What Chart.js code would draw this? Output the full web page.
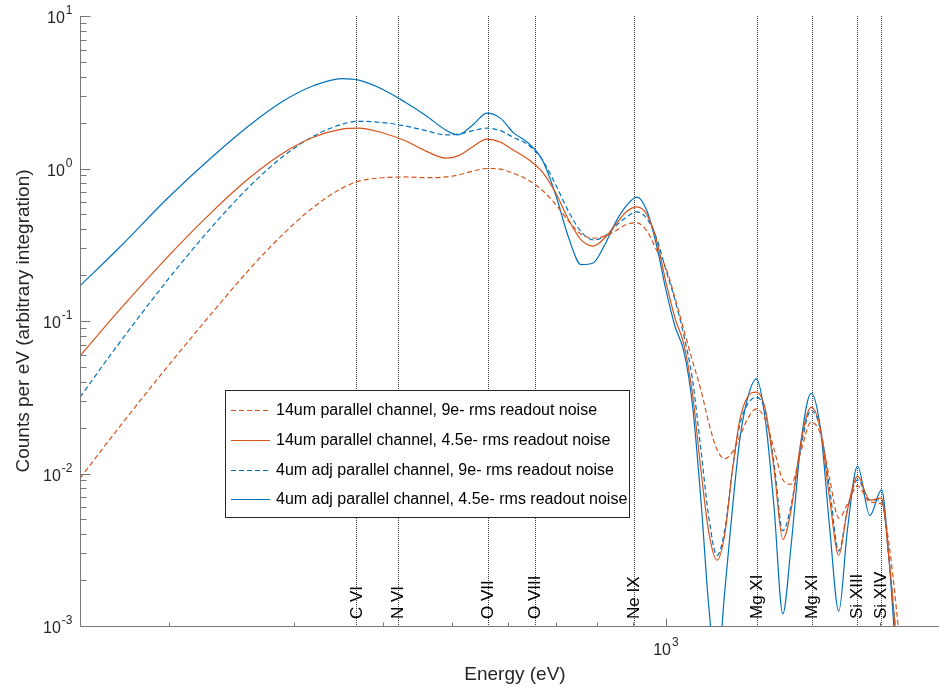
<!DOCTYPE html>
<html>
<head>
<meta charset="utf-8">
<script src="https://cdn.jsdelivr.net/npm/chart.js@4.4.0/dist/chart.umd.min.js"></script>
<style>
  html, body { margin: 0; padding: 0; background: #fff; }
  #wrap { width: 939px; height: 691px; position: relative; }
</style>
</head>
<body>
<div id="wrap"><canvas id="spectrumChart"></canvas></div>
<script>
// energy grid (eV) shared by all four curves
const energy = [150, 170, 200, 230, 260, 290, 320, 350, 370, 400,
    430, 460, 490, 510, 535, 560, 585, 610, 640, 670,
    700, 730, 760, 790, 820, 850, 880, 910, 940, 970,
    1000, 1030, 1060, 1090, 1120, 1150, 1180, 1210, 1240, 1270,
    1300, 1340, 1380, 1420, 1460, 1500, 1550, 1600, 1650, 1700,
    1750, 1800, 1860, 1935, 2010, 2060, 2110, 2160];

// counts per eV
const counts14um9e = [0.0093, 0.0199, 0.0515, 0.113, 0.22, 0.374, 0.561, 0.741, 0.826, 0.87,
    0.88, 0.87, 0.88, 0.906, 0.96, 1.0, 0.99, 0.93, 0.84, 0.72,
    0.58, 0.45, 0.37, 0.35, 0.36, 0.39, 0.43, 0.44, 0.39, 0.292,
    0.223, 0.141, 0.087, 0.0545, 0.0353, 0.0211, 0.0143, 0.0125, 0.0138, 0.0174,
    0.0224, 0.0265, 0.0224, 0.0143, 0.0091, 0.0085, 0.0143, 0.0217, 0.018, 0.0091,
    0.0051, 0.0063, 0.0083, 0.0065, 0.0063, 0.0034, 0.00127, 0.0004];

const counts14um45e = [0.059, 0.1165, 0.2685, 0.52, 0.872, 1.269, 1.609, 1.813, 1.84, 1.71,
    1.52, 1.30, 1.17, 1.21, 1.39, 1.56, 1.49, 1.32, 1.15, 0.95,
    0.69, 0.46, 0.34, 0.31, 0.35, 0.43, 0.52, 0.56, 0.50, 0.34,
    0.18, 0.104, 0.070, 0.033, 0.0105, 0.0040, 0.0027, 0.0040, 0.0105, 0.0224,
    0.0313, 0.0342, 0.0261, 0.0105, 0.0037, 0.0058, 0.0166, 0.0271, 0.0193, 0.0067,
    0.0029, 0.0058, 0.0096, 0.0067, 0.0069, 0.0027, 0.0008, 0.0003];

const counts4um9e = [0.0317, 0.0708, 0.19, 0.415, 0.767, 1.209, 1.636, 1.946, 2.04, 2.0,
    1.9, 1.77, 1.66, 1.68, 1.77, 1.84, 1.77, 1.6, 1.43, 1.14,
    0.78, 0.52, 0.385, 0.34, 0.36, 0.42, 0.48, 0.52, 0.47, 0.35,
    0.216, 0.137, 0.08, 0.041, 0.0143, 0.005, 0.0029, 0.0043, 0.0105, 0.0208,
    0.028, 0.0317, 0.0254, 0.0114, 0.0042, 0.0062, 0.0154, 0.026, 0.0193, 0.0078,
    0.0031, 0.0058, 0.0091, 0.0067, 0.0067, 0.0027, 0.0008, 0.0003];

const counts4um45e = [0.170, 0.30, 0.65, 1.19, 1.93, 2.78, 3.5, 3.89, 3.8, 3.3,
    2.72, 2.22, 1.79, 1.66, 1.93, 2.31, 2.14, 1.72, 1.47, 1.14,
    0.67, 0.35, 0.234, 0.24, 0.315, 0.445, 0.57, 0.65, 0.53, 0.315,
    0.16, 0.092, 0.063, 0.028, 0.0067, 0.00127, 0.0005, 0.0017, 0.0058, 0.0166,
    0.030, 0.0417, 0.0224, 0.0058, 0.0012, 0.0034, 0.0166, 0.0335, 0.0193, 0.0043,
    0.00125, 0.0043, 0.0112, 0.0053, 0.0078, 0.0027, 0.0006, 0.0003];

const seriesLabels = [
    '14um parallel channel, 9e- rms readout noise',
    '14um parallel channel, 4.5e- rms readout noise',
    '4um adj parallel channel, 9e- rms readout noise',
    '4um adj parallel channel, 4.5e- rms readout noise'
];

// emission lines marked on the plot
const lineEnergies = [367, 420, 562, 654, 902, 1343, 1604, 1856, 2008];
const lineNames = ['C VI', 'N VI', 'O VII', 'O VIII', 'Ne IX', 'Mg XI', 'Mg XI', 'Si XIII', 'Si XIV'];

// axis ticks
const xMajorTicks = [1000];
const xMajorExponents = ['3'];
const xMinorTicks = [200, 300, 400, 500, 600, 700, 800, 900, 2000];
const yMajorTicks = [0.001, 0.01, 0.1, 1, 10];
const yMajorExponents = ['-3', '-2', '-1', '0', '1'];

const ORANGE = '#D95319';
const BLUE = '#0072BD';
const TEXT = '#262626';
const FONT = '"Liberation Sans", Arial, Helvetica, sans-serif';

function toPoints(values) {
    return energy.map((e, i) => ({ x: e, y: values[i] }));
}

function drawPower(ctx, exp, x, y, align) {
    ctx.font = '16px ' + FONT;
    const baseW = ctx.measureText('10').width;
    ctx.font = '12px ' + FONT;
    const expW = ctx.measureText(exp).width;
    let left = x;
    if (align === 'right') left = x - baseW - expW - 1;
    if (align === 'center') left = x - (baseW + expW + 1) / 2;
    ctx.fillStyle = TEXT;
    ctx.textAlign = 'left';
    ctx.textBaseline = 'middle';
    ctx.font = '16px ' + FONT;
    ctx.fillText('10', left, y + 3);
    ctx.font = '12px ' + FONT;
    ctx.fillText(exp, left + baseW + 1, y - 5);
}

const matlabAxes = {
    id: 'matlabAxes',
    beforeDatasetsDraw(chart) {
        const ctx = chart.ctx;
        const area = chart.chartArea;
        const x = chart.scales.x;
        ctx.save();
        ctx.strokeStyle = '#3a3a3a';
        ctx.lineWidth = 1;
        ctx.setLineDash([1, 1]);
        lineEnergies.forEach(e => {
            const px = Math.round(x.getPixelForValue(e)) + 0.5;
            ctx.beginPath();
            ctx.moveTo(px, area.top);
            ctx.lineTo(px, area.bottom);
            ctx.stroke();
        });
        ctx.restore();
    },
    afterDatasetsDraw(chart) {
        const ctx = chart.ctx;
        const area = chart.chartArea;
        const x = chart.scales.x;
        const y = chart.scales.y;
        ctx.save();

        // emission line labels
        ctx.fillStyle = '#000';
        ctx.font = '17px ' + FONT;
        ctx.textAlign = 'left';
        ctx.textBaseline = 'middle';
        lineEnergies.forEach((e, i) => {
            const px = x.getPixelForValue(e);
            ctx.save();
            ctx.translate(px + 0.5, area.bottom - 7);
            ctx.rotate(-Math.PI / 2);
            ctx.fillText(lineNames[i], 0, 0);
            ctx.restore();
        });

        // axis lines
        const left = Math.round(area.left) + 0.5;
        const bottom = Math.round(area.bottom) + 0.5;
        ctx.strokeStyle = '#777';
        ctx.lineWidth = 1;
        ctx.beginPath();
        ctx.moveTo(left, area.top);
        ctx.lineTo(left, bottom);
        ctx.lineTo(area.right, bottom);
        ctx.stroke();

        // y ticks
        ctx.beginPath();
        yMajorTicks.forEach(v => {
            const py = Math.round(y.getPixelForValue(v)) + 0.5;
            ctx.moveTo(left, py);
            ctx.lineTo(left + 10, py);
        });
        for (let d = -3; d < 1; d++) {
            for (let m = 2; m <= 9; m++) {
                const py = Math.round(y.getPixelForValue(m * Math.pow(10, d))) + 0.5;
                ctx.moveTo(left, py);
                ctx.lineTo(left + 6, py);
            }
        }
        // x ticks
        xMajorTicks.forEach(v => {
            const px = Math.round(x.getPixelForValue(v)) + 0.5;
            ctx.moveTo(px, bottom);
            ctx.lineTo(px, bottom - 8);
        });
        xMinorTicks.forEach(v => {
            const px = Math.round(x.getPixelForValue(v)) + 0.5;
            ctx.moveTo(px, bottom);
            ctx.lineTo(px, bottom - 4);
        });
        ctx.stroke();

        // tick labels
        yMajorTicks.forEach((v, i) => {
            drawPower(ctx, yMajorExponents[i], left - 8, y.getPixelForValue(v), 'right');
        });
        xMajorTicks.forEach((v, i) => {
            drawPower(ctx, xMajorExponents[i], x.getPixelForValue(v), bottom + 21, 'center');
        });

        // axis titles
        ctx.fillStyle = TEXT;
        ctx.font = '19px ' + FONT;
        ctx.textAlign = 'center';
        ctx.textBaseline = 'middle';
        ctx.fillText('Energy (eV)', 515, 675);
        ctx.save();
        ctx.translate(24, (area.top + area.bottom) / 2);
        ctx.rotate(-Math.PI / 2);
        ctx.fillText('Counts per eV (arbitrary integration)', 0, 0);
        ctx.restore();

        // legend box
        ctx.fillStyle = '#fff';
        ctx.fillRect(225.5, 390.5, 404, 127);
        ctx.strokeStyle = '#262626';
        ctx.strokeRect(225.5, 390.5, 404, 127);
        const rows = [410, 440, 470, 499];
        chart.data.datasets.forEach((ds, i) => {
            ctx.strokeStyle = ds.borderColor;
            ctx.lineWidth = ds.borderWidth;
            ctx.setLineDash(ds.borderDash || []);
            ctx.beginPath();
            ctx.moveTo(231, rows[i] + 0.5);
            ctx.lineTo(270, rows[i] + 0.5);
            ctx.stroke();
            ctx.setLineDash([]);
            ctx.fillStyle = '#000';
            ctx.font = '16px ' + FONT;
            ctx.textAlign = 'left';
            ctx.textBaseline = 'middle';
            ctx.fillText(ds.label, 276, rows[i] + 1);
        });

        ctx.restore();
    }
};

function makeDataset(label, values, color, dashed) {
    return {
        label: label,
        data: toPoints(values),
        borderColor: color,
        borderWidth: 1.2,
        borderDash: dashed ? [5, 3] : [],
        cubicInterpolationMode: 'monotone',
        pointRadius: 0,
        fill: false
    };
}

function renderSpectrumChart() {
    const ctx = document.getElementById('spectrumChart').getContext('2d');
    new Chart(ctx, {
        type: 'line',
        data: {
            datasets: [
                makeDataset(seriesLabels[0], counts14um9e, ORANGE, true),
                makeDataset(seriesLabels[1], counts14um45e, ORANGE, false),
                makeDataset(seriesLabels[2], counts4um9e, BLUE, true),
                makeDataset(seriesLabels[3], counts4um45e, BLUE, false)
            ]
        },
        options: {
            responsive: true,
            maintainAspectRatio: false,
            animation: false,
            layout: { padding: { left: 80, top: 16, right: 0, bottom: 65 } },
            plugins: {
                legend: { display: false },
                tooltip: { enabled: false }
            },
            scales: {
                x: { type: 'logarithmic', min: 150, max: 2421, display: false },
                y: { type: 'logarithmic', min: 0.001, max: 10, display: false }
            }
        },
        plugins: [matlabAxes]
    });
}

renderSpectrumChart();
</script>
</body>
</html>
